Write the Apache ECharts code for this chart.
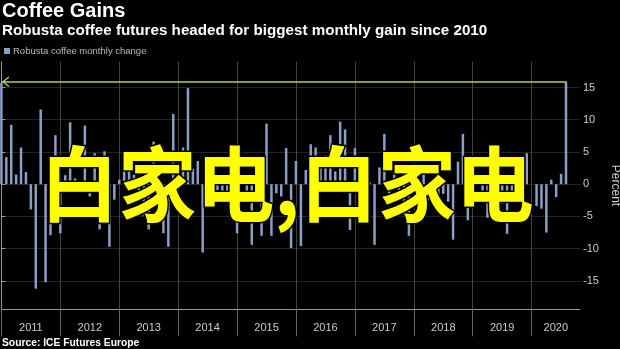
<!DOCTYPE html>
<html>
<head>
<meta charset="utf-8">
<script src="https://cdn.jsdelivr.net/npm/echarts@6/dist/echarts.min.js"></script>
<style>
html,body{margin:0;padding:0;background:#000;}
#chart{width:620px;height:349px;}
</style>
</head>
<body>
<div id="chart"></div>
<script>
// Monthly change (%) of Robusta coffee, month-end values, Dec 2010 .. Jul 2020
const firstYear = 2011;
const changes = [
  15.7,
  4.2, 9.2, 1.5, 5.7, 1.9, -3.9, -16.2, 11.6, -15.2, -7.9, 7.6, -7.6,
  1.4, 9.6, 0.9, -1.1, 9.1, -1.9, 4.8, -7.0, 5.1, -9.7, -2.4, 0.7,
  2.2, 2.5, 1.5, -2.5, -4.9, -7.0, 6.6, -2.0, -7.6, -9.7, 10.9, 3.0,
  5.7, 14.9, 2.4, 3.6, -10.6, 1.0, 4.4, -0.9, -2.9, -1.5, 2.0, -7.6,
  1.0, -2.5, -9.4, 2.0, -8.0, 9.4, -8.0, -1.4, -1.9, 5.6, -9.9, 3.6,
  -9.6, 2.2, 6.2, 5.7, 3.0, 4.5, 7.6, 2.0, 9.7, 8.5, -7.1, 5.6,
  -3.0, 2.0, 0.3, -9.4, 2.6, 7.8, -3.0, 2.0, -2.0, -4.0, -8.0, 2.0,
  -1.5, 3.0, -2.5, 1.0, -3.0, -1.5, -2.7, -8.6, 3.5, 7.8, -5.6, -3.4,
  1.2, -1.0, -5.2, -2.5, -1.5, -3.0, -7.7, -2.0, -1.0, -1.5, 4.8, 0.0,
  -3.4, -3.8, -7.5, 0.7, -2.0, 1.6, 15.9
];
const years = ['2011','2012','2013','2014','2015','2016','2017','2018','2019','2020'];
const yTicks = [-15, -10, -5, 0, 5, 10, 15];

const xMax = 117.85;
const lastIdx = changes.length - 1;
const lastVal = changes[lastIdx];
const yearStarts = years.map((y, k) => k * 12);
const yearCenters = years.map((y, k) => k < years.length - 1 ? k * 12 + 6 : (k * 12 + xMax) / 2);

const chart = echarts.init(document.getElementById('chart'), null, {renderer: 'canvas'});
const FONT = 'Liberation Sans';
chart.setOption({
  backgroundColor: '#000',
  animation: false,
  textStyle: {fontFamily: FONT},
  title: [
    {text: 'Coffee Gains', left: 2, top: 1, padding: 0,
     textStyle: {color: '#fff', fontSize: 20, fontWeight: 'bold', fontFamily: FONT}},
    {text: 'Robusta coffee futures headed for biggest monthly gain since 2010', left: 2, top: 23, padding: 0,
     textStyle: {color: '#fff', fontSize: 15.2, fontWeight: 'bold', fontFamily: FONT}},
    {text: 'Source: ICE Futures Europe', left: 2, bottom: 1, padding: 0,
     textStyle: {color: '#fff', fontSize: 10.3, fontWeight: 'bold', fontFamily: FONT}}
  ],
  legend: {
    left: 4, top: 46, padding: 0, itemWidth: 6, itemHeight: 6, icon: 'rect', itemGap: 4,
    textStyle: {color: '#bbb', fontSize: 9.5, padding: [0,0,0,-2]},
    data: ['Robusta coffee monthly change']
  },
  grid: {left: 1.4, right: 40, top: 61.7, bottom: 39.7, containLabel: false, outerBoundsMode: 'none'},
  xAxis: {
    type: 'value', min: 0, max: xMax,
    axisLine: {show: true, onZero: false, lineStyle: {color: '#999', width: 1}},
    axisTick: {show: true, length: 27, customValues: yearStarts, lineStyle: {color: '#666'}},
    splitLine: {show: true, lineStyle: {color: '#444', width: 1}},
    axisLabel: {show: true, customValues: yearCenters, margin: 13, color: '#ccc', fontSize: 11,
      formatter: v => String(firstYear + Math.floor(v / 12))}
  },
  yAxis: {
    type: 'value', position: 'right', min: -19.4, max: 19,
    name: 'Percent', nameLocation: 'middle', nameRotate: -90, nameGap: 27,
    nameTextStyle: {color: '#ccc', fontSize: 12},
    axisLine: {show: true, lineStyle: {color: '#999'}},
    axisTick: {show: true, length: 4, customValues: yTicks, lineStyle: {color: '#999'}},
    minorTick: {show: true, splitNumber: 2, length: 2, lineStyle: {color: '#999'}},
    axisLabel: {show: true, customValues: yTicks, margin: 3, color: '#ccc', fontSize: 11},
    splitLine: {show: true, lineStyle: {color: '#4a4a4a', type: 'dotted'}}
  },
  series: [{
    name: 'Robusta coffee monthly change',
    type: 'bar',
    barWidth: 2.5,
    clip: false,
    itemStyle: {color: '#8b9ec5'},
    data: changes.map((v, i) => [i, v]),
    markLine: {
      silent: true,
      symbol: ['path://M0,10 L5,0 L10,10 L8.4,10 L5,2.8 L1.6,10 Z', 'none'],
      symbolSize: [11, 7],
      symbolOffset: [[0, 4], [0, 0]],
      label: {show: false},
      lineStyle: {color: '#a9d64c', width: 1.5, type: 'solid'},
      data: [[{coord: [0, lastVal]}, {coord: [lastIdx, lastVal]}]]
    }
  }],
  graphic: [{
    type: 'text', z: 100,
    x: 287, y: 184, scaleY: 1.05,
    style: {
      text: '白家电,白家电',
      x: 0, y: 0, align: 'center', verticalAlign: 'middle',
      font: 'bold 78px "Noto Sans CJK SC"',
      fill: '#ffff00', stroke: '#000', lineWidth: 3
    }
  }]
});
</script>
</body>
</html>
